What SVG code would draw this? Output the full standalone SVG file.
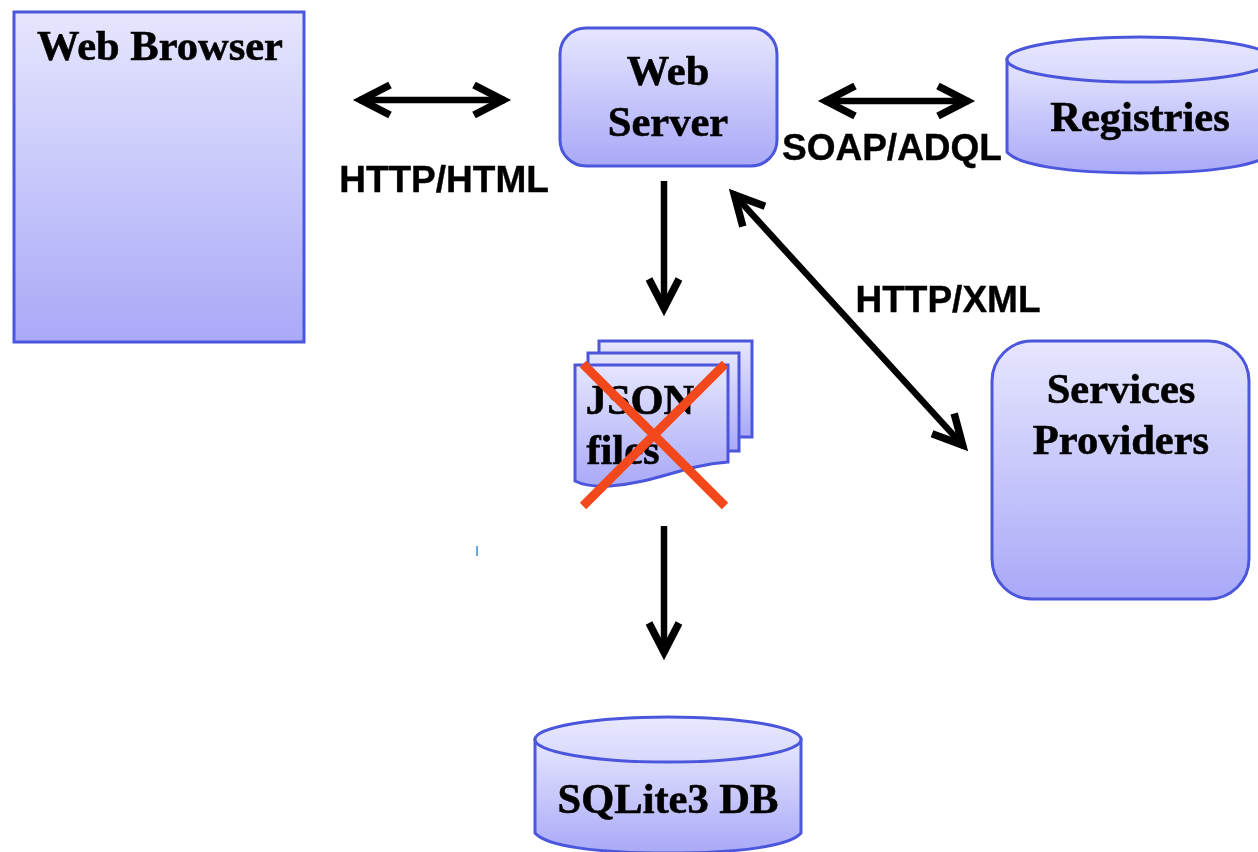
<svg xmlns="http://www.w3.org/2000/svg" width="1258" height="852" viewBox="0 0 1258 852">
<defs>
<linearGradient id="g" x1="0" y1="0" x2="0" y2="1"><stop offset="0" stop-color="#e6e6fe"/><stop offset="1" stop-color="#a9a9f8"/></linearGradient>
<linearGradient id="top" x1="0" y1="0" x2="0" y2="1"><stop offset="0" stop-color="#e8e8fe"/><stop offset="1" stop-color="#d8d8fd"/></linearGradient>
<filter id="b" x="-5%" y="-5%" width="110%" height="110%"><feGaussianBlur stdDeviation="0.7"/></filter>
<marker id="ah" viewBox="0 0 44 44" refX="36" refY="22" markerWidth="44" markerHeight="44" markerUnits="userSpaceOnUse" orient="auto-start-reverse"><path d="M5 7L34 22L5 37" fill="none" stroke="#000" stroke-width="7.500"/></marker>
</defs>
<style>
.s{stroke:#4c57dc;stroke-width:3;fill:url(#g)}
.e{stroke:#4c57dc;stroke-width:3;fill:url(#top)}
.t{font-family:"Liberation Serif",serif;font-weight:bold;font-size:42.500px;text-anchor:middle;fill:#000;stroke:#000;stroke-width:.6}
.l{font-family:"Liberation Sans",sans-serif;font-weight:bold;font-size:37px;text-anchor:middle;fill:#000;stroke:#000;stroke-width:.4}
.c{stroke:#000;stroke-width:6.500;fill:none}
.x{stroke:#f2481c;stroke-width:9;fill:none}
</style>
<rect width="1258" height="852" fill="#fff"/>
<rect x="476" y="546" width="2" height="10" fill="#6aa7d8"/>
<g id="browser" filter="url(#b)"><rect class="s" x="14" y="12" width="290" height="330"/><text class="t" x="160" y="60">Web Browser</text></g>
<g id="server" filter="url(#b)"><rect class="s" x="560" y="28" width="217" height="138" rx="26"/><text class="t" x="668" y="85">Web</text><text class="t" x="668" y="136">Server</text></g>
<g id="registries" filter="url(#b)"><path class="s" d="M1007 59.500V152C1018 165 1066 173 1140 173S1262 165 1273 152V59.500Z"/><ellipse class="e" cx="1140" cy="59.500" rx="133" ry="22.500"/><text class="t" x="1140" y="131">Registries</text></g>
<g id="providers" filter="url(#b)"><rect class="s" x="992" y="341" width="257" height="258" rx="40"/><text class="t" x="1121" y="403">Services</text><text class="t" x="1121" y="454">Providers</text></g>
<g id="json" filter="url(#b)"><rect class="s" x="599" y="341" width="153" height="96"/><rect class="s" x="588" y="353" width="151" height="98"/><path class="s" d="M575 365H728V462C680 466 660 482 610 486C595 487 583 485 575 481Z"/><text class="t" x="640" y="414">JSON</text><text class="t" x="623" y="464">files</text></g>
<g id="sqlite" filter="url(#b)"><path class="s" d="M535 739.500V833C546 846 595 853 668 853S790 846 801 833V739.500Z"/><ellipse class="e" cx="668" cy="739.500" rx="133" ry="22.500"/><text class="t" x="668" y="813">SQLite3 DB</text></g>
<g id="connectors" filter="url(#b)">
<path class="c" marker-start="url(#ah)" marker-end="url(#ah)" d="M359 100H505"/>
<path class="c" marker-start="url(#ah)" marker-end="url(#ah)" d="M824 101H969"/>
<path class="c" marker-end="url(#ah)" d="M664 181V310"/>
<path class="c" marker-start="url(#ah)" marker-end="url(#ah)" d="M733 193.400L964 446.600"/>
<path class="c" marker-end="url(#ah)" d="M664 526V654"/>
</g>
<g id="labels" filter="url(#b)"><text class="l" x="444" y="192">HTTP/HTML</text><text class="l" x="892" y="160">SOAP/ADQL</text><text class="l" x="948" y="312">HTTP/XML</text></g>
<g id="cross"><path class="x" d="M583 364L725 506M725 364L583 506"/></g>
</svg>
